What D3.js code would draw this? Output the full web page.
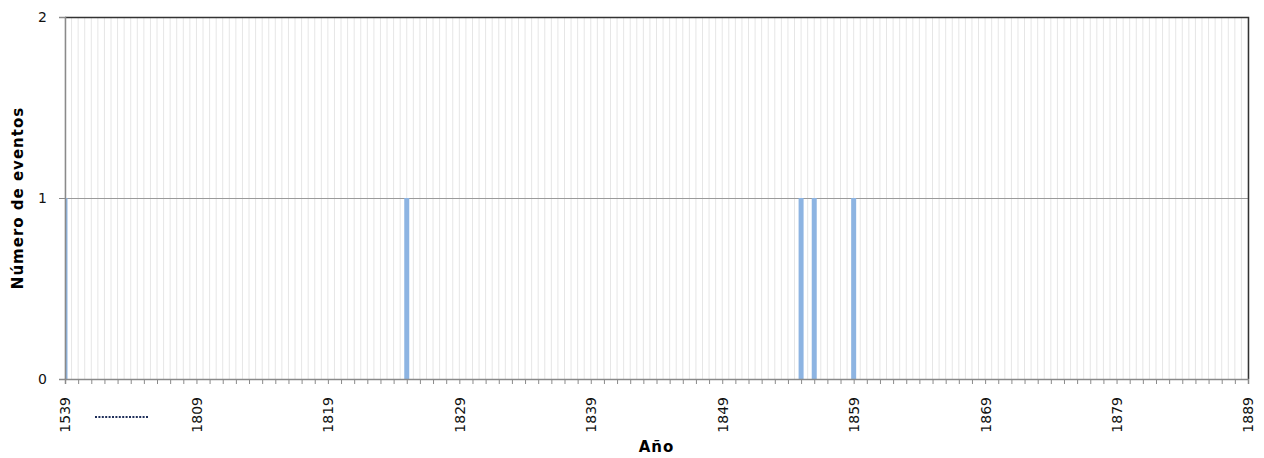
<!DOCTYPE html>
<html>
<head>
<meta charset="utf-8">
<script src="https://cdn.jsdelivr.net/npm/d3@7"></script>
<style>
  body { margin: 0; background: #fff; }
  text { font-family: "DejaVu Sans", Verdana, sans-serif; }
</style>
</head>
<body>
<div id="chart"></div>
<script>
// categories on the x axis: 1539, then 1800..1889 (1800-1808 hidden behind the break)
const categories = ['1539'].concat(d3.range(1800, 1890).map(String));
const eventYears = ['1539', '1825', '1855', '1856', '1859'];
const eventCounts = [1, 1, 1, 1, 1];
const xTickLabels = ['1539', '1809', '1819', '1829', '1839', '1849', '1859', '1869', '1879', '1889'];
const yTicks = [0, 1, 2];

const width = 1264;
const height = 458;
const margin = { top: 17, right: 16, bottom: 79, left: 65 };

const svg = d3.select('#chart')
  .append('svg')
  .attr('width', width)
  .attr('height', height);

const x = d3.scalePoint()
  .domain(categories)
  .range([margin.left, width - margin.right]);

const y = d3.scaleLinear()
  .domain([0, 2])
  .range([height - margin.bottom, margin.top]);

const step = x.step();

// vertical gridlines every half category
const gridX = [];
categories.forEach((c, i) => {
  gridX.push(x(c));
  if (i < categories.length - 1) gridX.push(x(c) + step / 2);
});

svg.append('g')
  .selectAll('line')
  .data(gridX)
  .join('line')
    .attr('x1', d => d).attr('x2', d => d)
    .attr('y1', y(2)).attr('y2', y(0))
    .attr('stroke', '#e6e6e6')
    .attr('stroke-width', 1);

// horizontal gridline at 1
svg.append('line')
  .attr('x1', margin.left).attr('x2', width - margin.right)
  .attr('y1', Math.round(y(1)) + 0.5).attr('y2', Math.round(y(1)) + 0.5)
  .attr('stroke', '#9a9a9a');

svg.append('clipPath')
  .attr('id', 'plot')
  .append('rect')
    .attr('x', margin.left).attr('y', margin.top)
    .attr('width', width - margin.left - margin.right)
    .attr('height', height - margin.top - margin.bottom);

svg.append('g')
  .attr('clip-path', 'url(#plot)')
  .attr('fill', '#8db4e2')
  .selectAll('rect')
  .data(eventYears)
  .join('rect')
    .attr('x', d => x(d) - 2.5)
    .attr('y', (d, i) => y(eventCounts[i]))
    .attr('width', 5)
    .attr('height', (d, i) => y(0) - y(eventCounts[i]));

// frame: top and right dark
svg.append('path')
  .attr('d', `M${margin.left},${margin.top + 0.5}H${width - margin.right + 0.5}V${y(0)}`)
  .attr('fill', 'none')
  .attr('stroke', '#333')
  .attr('stroke-width', 1.5);

function xAxis(g) {
  g.attr('transform', `translate(0,${y(0)})`)
    .call(d3.axisBottom(x)
      .tickValues(categories)
      .tickSize(5)
      .tickFormat(d => xTickLabels.includes(d) ? d : ''))
    .call(g => g.select('.domain').attr('stroke', '#8a8a8a').attr('stroke-width', 1.5))
    .call(g => g.selectAll('.tick line').attr('stroke', '#8a8a8a'));
  g.selectAll('.tick text')
    .attr('transform', 'rotate(-90)')
    .attr('text-anchor', 'end')
    .attr('x', -18)
    .attr('y', 0)
    .attr('dy', '0.35em')
    .attr('font-size', 14)
    .attr('fill', '#111');
}

function yAxis(g) {
  g.attr('transform', `translate(${margin.left},0)`)
    .call(d3.axisLeft(y).tickValues(yTicks).tickSize(6).tickPadding(12).tickFormat(d3.format('d')))
    .call(g => g.select('.domain').attr('stroke', '#8a8a8a').attr('stroke-width', 1.5))
    .call(g => g.selectAll('.tick line').attr('stroke', '#8a8a8a'))
    .call(g => g.selectAll('.tick text').attr('font-size', 14).attr('fill', '#111'));
}

svg.append('g').call(xAxis);
svg.append('g').call(yAxis);

// axis break marker between 1539 and 1809
svg.append('line')
  .attr('x1', 95).attr('x2', 148)
  .attr('y1', 417).attr('y2', 417)
  .attr('stroke', '#1f2f5a')
  .attr('stroke-width', 2)
  .attr('stroke-dasharray', '2,1.4');

svg.append('text')
  .attr('text-anchor', 'middle')
  .attr('font-weight', 'bold')
  .attr('font-size', 15)
  .attr('letter-spacing', 1)
  .attr('transform', `translate(${(margin.left + width - margin.right) / 2},452)`)
  .text('Año');

svg.append('text')
  .attr('text-anchor', 'middle')
  .attr('font-weight', 'bold')
  .attr('font-size', 15)
  .attr('letter-spacing', 1)
  .attr('transform', `translate(23,${(y(0) + y(2)) / 2}) rotate(-90)`)
  .text('Número de eventos');
</script>
</body>
</html>
